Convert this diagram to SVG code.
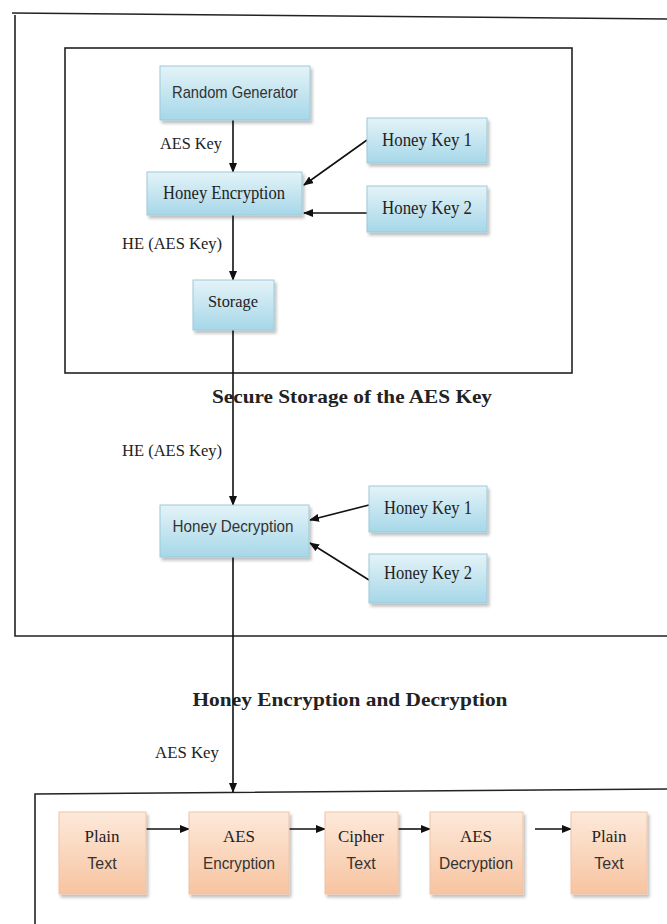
<svg xmlns="http://www.w3.org/2000/svg" width="667" height="924" viewBox="0 0 667 924">
<defs>
<linearGradient id="gb" x1="0" y1="0" x2="0" y2="1"><stop offset="0" stop-color="#e4f3f8"/><stop offset="1" stop-color="#a6d7e8"/></linearGradient>
<linearGradient id="go" x1="0" y1="0" x2="0" y2="1"><stop offset="0" stop-color="#fde9da"/><stop offset="1" stop-color="#f7c4a0"/></linearGradient>
<filter id="sh" x="-10%" y="-10%" width="130%" height="140%"><feDropShadow dx="2" dy="3" stdDeviation="1.5" flood-color="#000" flood-opacity="0.25"/></filter>
<marker id="ah" markerWidth="10" markerHeight="8" refX="9" refY="4" orient="auto" markerUnits="userSpaceOnUse"><path d="M0,0 L10,4 L0,8 z" fill="#111"/></marker>
</defs>
<style>
.frame{fill:none;stroke:#222;stroke-width:1.6}
.blue{fill:url(#gb);stroke:#9cc9da;stroke-width:1;filter:url(#sh)}
.orange{fill:url(#go);stroke:#efc3a6;stroke-width:1;filter:url(#sh)}
.serif{font-family:"Liberation Serif","Times New Roman",serif;fill:#222}
.sans{font-family:"Liberation Sans Narrow","Liberation Sans",Arial,sans-serif;fill:#333}
.title{font-family:"Liberation Serif","Times New Roman",serif;font-weight:bold;fill:#222}
.ca{stroke:#111;stroke-width:1.6;fill:none;marker-end:url(#ah)}
</style>
<rect width="667" height="924" fill="#fff"/>
<g id="frames">
<path class="frame" d="M12,13 L667,19"/>
<path class="frame" d="M15,15 L15,636 L667,636"/>
<rect class="frame" x="65" y="48" width="507" height="325"/>
<path class="frame" d="M35,924 L35,794 L667,789"/>
</g>
<g id="labels">
<text class="serif" x="191" y="149" font-size="17" text-anchor="middle" textLength="62" lengthAdjust="spacingAndGlyphs">AES Key</text>
<text class="serif" x="172" y="249" font-size="17" text-anchor="middle" textLength="100" lengthAdjust="spacingAndGlyphs">HE (AES Key)</text>
<text class="title" x="352" y="403" font-size="19" text-anchor="middle" textLength="280" lengthAdjust="spacingAndGlyphs">Secure Storage of the AES Key</text>
<text class="serif" x="172" y="456" font-size="17" text-anchor="middle" textLength="100" lengthAdjust="spacingAndGlyphs">HE (AES Key)</text>
<text class="title" x="350" y="706" font-size="19" text-anchor="middle" textLength="315" lengthAdjust="spacingAndGlyphs">Honey Encryption and Decryption</text>
<text class="serif" x="187" y="758" font-size="17" text-anchor="middle" textLength="64" lengthAdjust="spacingAndGlyphs">AES Key</text>
</g>
<g id="connectors">
<line class="ca" x1="233" y1="120" x2="233" y2="172"/>
<line class="ca" x1="233" y1="215" x2="233" y2="280"/>
<line class="ca" x1="233" y1="330" x2="233" y2="505"/>
<line class="ca" x1="233" y1="557" x2="233" y2="792"/>
<line class="ca" x1="367" y1="140" x2="304" y2="185"/>
<line class="ca" x1="367" y1="213" x2="304" y2="213"/>
<line class="ca" x1="369" y1="505" x2="310" y2="520"/>
<line class="ca" x1="369" y1="580" x2="310" y2="543"/>
<line class="ca" x1="146" y1="829" x2="189" y2="829"/>
<line class="ca" x1="289" y1="829" x2="325" y2="829"/>
<line class="ca" x1="398" y1="829" x2="430" y2="829"/>
<line class="ca" x1="535" y1="829" x2="571" y2="829"/>
</g>
<g id="random-generator">
<rect class="blue" x="160" y="66" width="150" height="54"/>
<text class="sans" x="235" y="98" font-size="17" text-anchor="middle" textLength="126" lengthAdjust="spacingAndGlyphs">Random Generator</text>
</g>
<g id="honey-encryption">
<rect class="blue" x="147" y="172" width="155" height="43"/>
<text class="serif" x="224" y="199" font-size="18" text-anchor="middle" textLength="122" lengthAdjust="spacingAndGlyphs">Honey Encryption</text>
</g>
<g id="honey-key-1a">
<rect class="blue" x="367" y="118" width="120" height="45"/>
<text class="serif" x="427" y="146" font-size="18" text-anchor="middle" textLength="90" lengthAdjust="spacingAndGlyphs">Honey Key 1</text>
</g>
<g id="honey-key-2a">
<rect class="blue" x="367" y="186" width="120" height="46"/>
<text class="serif" x="427" y="214" font-size="18" text-anchor="middle" textLength="90" lengthAdjust="spacingAndGlyphs">Honey Key 2</text>
</g>
<g id="storage">
<rect class="blue" x="193" y="280" width="81" height="50"/>
<text class="serif" x="233" y="307" font-size="17" text-anchor="middle" textLength="50" lengthAdjust="spacingAndGlyphs">Storage</text>
</g>
<g id="honey-decryption">
<rect class="blue" x="160" y="505" width="149" height="52"/>
<text class="sans" x="233" y="532" font-size="17" text-anchor="middle" textLength="121" lengthAdjust="spacingAndGlyphs">Honey Decryption</text>
</g>
<g id="honey-key-1b">
<rect class="blue" x="369" y="486" width="118" height="46"/>
<text class="serif" x="428" y="514" font-size="18" text-anchor="middle" textLength="88" lengthAdjust="spacingAndGlyphs">Honey Key 1</text>
</g>
<g id="honey-key-2b">
<rect class="blue" x="369" y="554" width="118" height="49"/>
<text class="serif" x="428" y="579" font-size="18" text-anchor="middle" textLength="88" lengthAdjust="spacingAndGlyphs">Honey Key 2</text>
</g>
<g id="plain-text-1">
<rect class="orange" x="59" y="812" width="87" height="82"/>
<text class="serif" x="102" y="842" font-size="17" text-anchor="middle">Plain</text>
<text class="sans" x="102" y="869" font-size="16" text-anchor="middle">Text</text>
</g>
<g id="aes-encryption">
<rect class="orange" x="189" y="812" width="100" height="82"/>
<text class="serif" x="239" y="842" font-size="17" text-anchor="middle">AES</text>
<text class="sans" x="239" y="869" font-size="16" text-anchor="middle" textLength="72" lengthAdjust="spacingAndGlyphs">Encryption</text>
</g>
<g id="cipher-text">
<rect class="orange" x="325" y="812" width="73" height="82"/>
<text class="serif" x="361" y="842" font-size="17" text-anchor="middle" textLength="46" lengthAdjust="spacingAndGlyphs">Cipher</text>
<text class="sans" x="361" y="869" font-size="16" text-anchor="middle">Text</text>
</g>
<g id="aes-decryption">
<rect class="orange" x="430" y="812" width="93" height="82"/>
<text class="serif" x="476" y="842" font-size="17" text-anchor="middle">AES</text>
<text class="sans" x="476" y="869" font-size="16" text-anchor="middle" textLength="74" lengthAdjust="spacingAndGlyphs">Decryption</text>
</g>
<g id="plain-text-2">
<rect class="orange" x="571" y="812" width="76" height="82"/>
<text class="serif" x="609" y="842" font-size="17" text-anchor="middle">Plain</text>
<text class="sans" x="609" y="869" font-size="16" text-anchor="middle">Text</text>
</g>
</svg>
